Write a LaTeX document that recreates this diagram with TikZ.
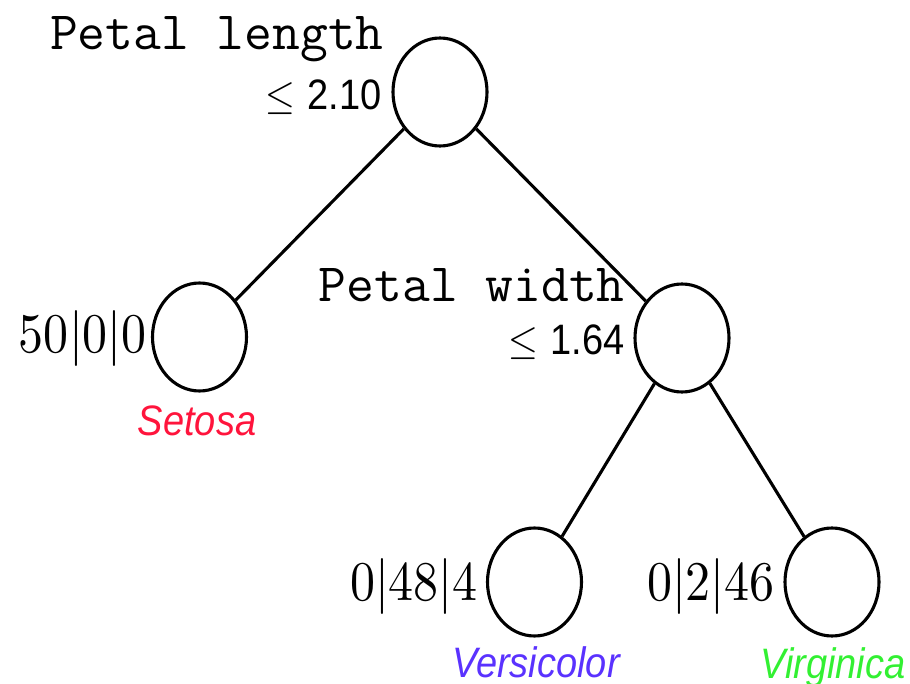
\documentclass[tikz,border=0pt]{standalone}
\usepackage{fontspec}
\usepackage{unicode-math}
\setmathfont{Latin Modern Math}
\newfontfamily\sansf{Liberation Sans}
\usetikzlibrary{shapes.geometric}
\definecolor{setred}{RGB}{255,20,60}
\definecolor{verblue}{RGB}{90,50,255}
\definecolor{virgreen}{RGB}{50,240,50}
\newcommand{\vst}[1]{\scalebox{1}[1.12]{#1}}
\tikzset{
  treenode/.style={draw, ellipse, line width=3.1pt, minimum width=94pt, minimum height=108pt, inner sep=0pt},
  edgeline/.style={line width=3.1pt},
  monotext/.style={inner sep=0pt, font=\ttfamily\fontsize{54}{54}\selectfont},
  thrtext/.style={inner sep=0pt, font=\sansf\fontsize{38}{38}\selectfont},
  cnttext/.style={inner sep=0pt, font=\fontsize{50}{50}\selectfont},
  clstext/.style={inner sep=0pt, font=\sansf\itshape\fontsize{38}{38}\selectfont},
}
\begin{document}
\begin{tikzpicture}[x=1pt,y=-1pt]
\useasboundingbox (0,0) rectangle (910,684);
% tree nodes
\node[treenode] (root) at (440,92) {};
\node[treenode] (L) at (199.5,337) {};
\node[treenode] (R) at (682,338) {};
\node[treenode] (RL) at (534.5,582) {};
\node[treenode] (RR) at (832,582) {};
% edges
\draw[edgeline] (root) -- (L);
\draw[edgeline] (root) -- (R);
\draw[edgeline] (R) -- (RL);
\draw[edgeline] (R) -- (RR);
% split labels
\node[monotext, anchor=base east] (t1) at (384,50) {Petal length};
\node[thrtext, anchor=base east] (t2) at (382,110) {\vst{$\leq$\hspace{0.33em}2.10}};
\node[monotext, anchor=base east] (t3) at (625,302) {Petal width};
\node[thrtext, anchor=base east] (t4) at (625,355) {\vst{$\leq$\hspace{0.33em}1.64}};
% counts
\node[cnttext, anchor=base east] (c1) at (147,353) {\vst{$50|0|0$}};
\node[cnttext, anchor=base east] (c2) at (478,600) {\vst{$0|48|4$}};
\node[cnttext, anchor=base east] (c3) at (775,600) {\vst{$0|2|46$}};
% classes
\node[clstext, text=setred, anchor=base] (s1) at (197,435) {\vst{Setosa}};
\node[clstext, text=verblue, anchor=base] (s2) at (536,677) {\vst{Versicolor}};
\node[clstext, text=virgreen, anchor=base] (s3) at (833,678) {\vst{Virginica}};
\end{tikzpicture}
\end{document}
